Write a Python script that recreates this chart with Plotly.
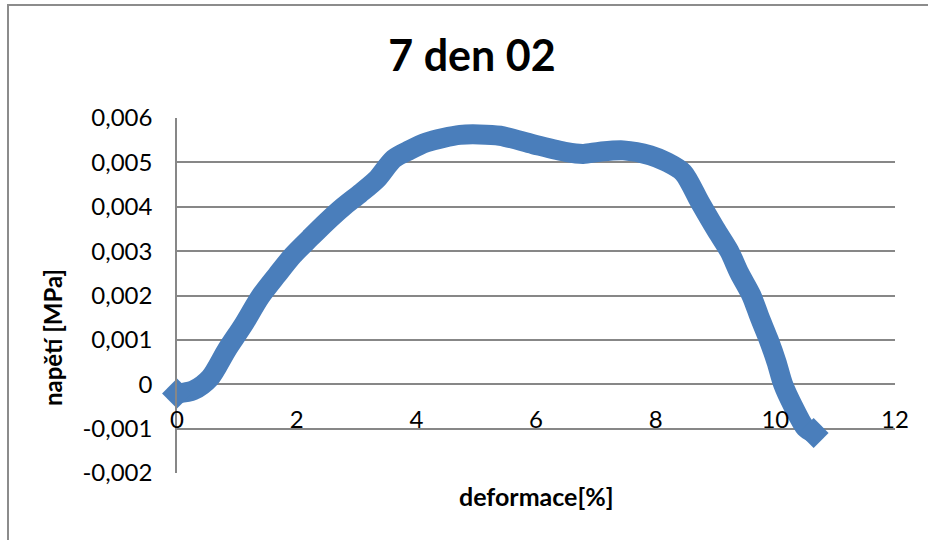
import plotly.graph_objects as go

# Stress-strain record, sample "7 den 02"
deformace = [0.0, 0.27, 0.55, 0.83, 1.11, 1.39, 1.67, 1.94, 2.22, 2.50,
             2.78, 3.06, 3.34, 3.62, 3.89, 4.17, 4.45, 4.73, 5.05, 5.40,
             5.95, 6.51, 6.79, 7.07, 7.46, 7.91, 8.18, 8.46, 8.74, 9.00,
             9.23, 9.40, 9.60, 9.74, 9.89, 10.02, 10.13, 10.30, 10.50, 10.64]
napeti = [-0.00021, -0.00014, 0.00014, 0.00077, 0.00134, 0.00197, 0.00246,
          0.00291, 0.00329, 0.00366, 0.00400, 0.00430, 0.00462, 0.00508,
          0.00528, 0.00545, 0.00555, 0.00562, 0.00563, 0.00560, 0.00541,
          0.00523, 0.00519, 0.00524, 0.00527, 0.00516, 0.00501, 0.00477,
          0.00410, 0.00350, 0.00300, 0.00250, 0.00200, 0.00150, 0.00100,
          0.00050, 0.00000, -0.00050, -0.00098, -0.00110]

y_ticks = [-0.002, -0.001, 0, 0.001, 0.002, 0.003, 0.004, 0.005, 0.006]
y_tick_labels = ["-0,002", "-0,001", "0", "0,001", "0,002", "0,003",
                 "0,004", "0,005", "0,006"]
x_ticks = [0, 2, 4, 6, 8, 10, 12]
x_tick_labels = ["0", "2", "4", "6", "8", "10", "12"]

BLUE = "#4A7EBB"
GRID = "#878787"
FONT = "Lato"

fig = go.Figure()
fig.add_trace(go.Scatter(
    x=deformace, y=napeti, mode="lines",
    line=dict(color=BLUE, width=20, shape="spline", smoothing=0.8),
    hoverinfo="skip", showlegend=False,
))
# diamond caps at both ends of the curve
fig.add_trace(go.Scatter(
    x=[deformace[0], deformace[-1]], y=[napeti[0], napeti[-1]], mode="markers",
    marker=dict(symbol="diamond", size=23, color=BLUE, line=dict(width=0)),
    cliponaxis=False, hoverinfo="skip", showlegend=False,
))

W, H = 928, 540
L, R, T, B = 177, 33, 118, 67
pw, ph = W - L - R, H - T - B

def px_x(p):
    return (p - L) / pw

def px_y(p):
    return (H - B - p) / ph

fig.update_layout(
    width=W, height=H,
    margin=dict(l=L, r=R, t=T, b=B),
    paper_bgcolor="white", plot_bgcolor="white",
    font=dict(family=FONT, size=24, color="black"),
    title=dict(text="<b>7 den 02</b>", xref="container", yref="container",
               x=472 / W, xanchor="center",
               y=1 - 56 / H, yanchor="middle",
               font=dict(family=FONT, size=43, color="black")),
    xaxis=dict(range=[0, 12], tickvals=x_ticks, ticktext=x_tick_labels,
               anchor="free", position=0.25, showgrid=False, zeroline=False,
               showline=False, ticks="outside", ticklen=14,
               tickcolor="rgba(0,0,0,0)", tickfont=dict(size=24)),
    yaxis=dict(range=[-0.002, 0.006], tickvals=y_ticks, ticktext=y_tick_labels,
               showgrid=True, gridcolor=GRID, gridwidth=1.5, zeroline=False,
               showline=True, linecolor=GRID, linewidth=1.5,
               ticks="outside", ticklen=18, tickcolor="rgba(0,0,0,0)",
               tickfont=dict(size=24)),
    annotations=[
        dict(text="<b>deformace[%]</b>", xref="paper", yref="paper",
             x=px_x(536), y=px_y(496), xanchor="center", yanchor="middle",
             showarrow=False, font=dict(family=FONT, size=25)),
        dict(text="<b>napětí [MPa]</b>", xref="paper", yref="paper",
             x=px_x(52), y=px_y(338), xanchor="center", yanchor="middle",
             textangle=-90, showarrow=False, font=dict(family=FONT, size=24)),
    ],
    shapes=[
        dict(type="rect", xref="paper", yref="paper",
             x0=px_x(8), x1=px_x(960), y0=px_y(600), y1=px_y(5),
             line=dict(color="#8c8c8c", width=2), layer="below"),
    ],
)

fig.write_html("out.html")
